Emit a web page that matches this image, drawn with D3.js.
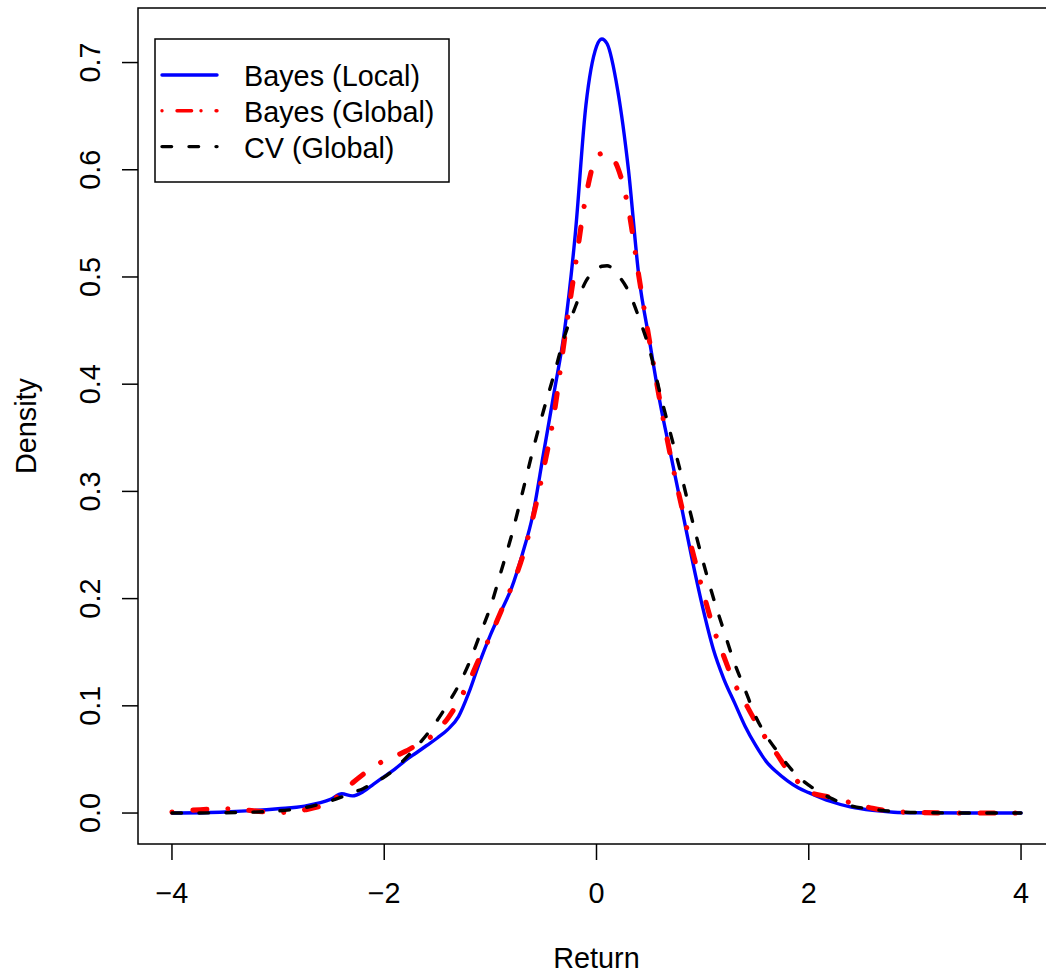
<!DOCTYPE html>
<html>
<head>
<meta charset="utf-8">
<script src="https://cdn.jsdelivr.net/npm/d3@7"></script>
<style>
  body { margin: 0; background: white; }
  svg text { font-family: "Liberation Sans", Arial, sans-serif; fill: black; }
</style>
</head>
<body>
<div id="chart"></div>
<script>
// grid of return values the densities were read at
var returnGrid = [-4, -3.5, -3, -2.75, -2.5, -2.4, -2.3, -2.2, -2.1, -2, -1.9, -1.8, -1.7, -1.6, -1.5,
  -1.4, -1.3, -1.2, -1.1, -1, -0.9, -0.8, -0.7, -0.6, -0.5, -0.4, -0.3, -0.2, -0.1, 0, 0.05, 0.1,
  0.2, 0.3, 0.4, 0.5, 0.6, 0.7, 0.8, 0.9, 1, 1.1, 1.2, 1.3, 1.4, 1.5, 1.6, 1.7, 1.8, 1.9, 2,
  2.2, 2.4, 2.6, 2.8, 3, 3.5, 4];

var bayesLocal = [0, 0.001, 0.004, 0.0065, 0.013, 0.018, 0.016, 0.0198, 0.027, 0.034, 0.041, 0.049, 0.056, 0.063, 0.070,
  0.078, 0.090, 0.113, 0.141, 0.166, 0.188, 0.210, 0.241, 0.278, 0.335, 0.392, 0.451, 0.54, 0.66, 0.715, 0.722, 0.7175,
  0.674, 0.601, 0.50, 0.44, 0.382, 0.334, 0.286, 0.237, 0.192, 0.153, 0.125, 0.103, 0.081, 0.063, 0.048, 0.038, 0.030, 0.0235, 0.019,
  0.011, 0.0055, 0.0025, 0.0008, 0.0003, 0, 0];

var bayesGlobal = [0.001, 0.004, 0.0005, 0.003, 0.011, 0.019, 0.028, 0.036, 0.043, 0.049, 0.053, 0.0575, 0.063, 0.068, 0.077,
  0.0885, 0.104, 0.123, 0.145, 0.165, 0.188, 0.211, 0.238, 0.275, 0.32, 0.372, 0.443, 0.51, 0.575, 0.612, 0.615, 0.615,
  0.602, 0.564, 0.50, 0.44, 0.383, 0.332, 0.287, 0.246, 0.208, 0.173, 0.146, 0.121, 0.103, 0.085, 0.069, 0.055, 0.040, 0.029, 0.020,
  0.0148, 0.0095, 0.0045, 0.0015, 0.0005, 0, 0];

var cvGlobal = [0, 0.0003, 0.002, 0.005, 0.0115, 0.015, 0.019, 0.0227, 0.028, 0.0335, 0.041, 0.051, 0.0615, 0.073, 0.0865,
  0.102, 0.119, 0.140, 0.166, 0.192, 0.225, 0.259, 0.298, 0.338, 0.375, 0.409, 0.445, 0.472, 0.496, 0.507, 0.510, 0.5105,
  0.502, 0.487, 0.462, 0.432, 0.391, 0.353, 0.315, 0.274, 0.236, 0.201, 0.170, 0.140, 0.115, 0.090, 0.072, 0.058, 0.045, 0.034, 0.026,
  0.0142, 0.0067, 0.0035, 0.0015, 0.0005, 0, 0];

var xTicks = [-4, -2, 0, 2, 4];
var yTicks = [0, 0.1, 0.2, 0.3, 0.4, 0.5, 0.6, 0.7];
var seriesNames = ["Bayes (Local)", "Bayes (Global)", "CV (Global)"];

var width = 1046, height = 974;
var fontSize = "28.8px";
var svg = d3.select("#chart").append("svg").attr("width", width).attr("height", height);

//R style axis ranges: data range stretched by 4% on each side
var xMin = -4, xMax = 4, yMin = 0, yMax = 0.722;
var xPad = (xMax - xMin) * 0.04, yPad = (yMax - yMin) * 0.04;
var x = d3.scaleLinear().domain([xMin - xPad, xMax + xPad]).range([138, 1055]);
var y = d3.scaleLinear().domain([yMin - yPad, yMax + yPad]).range([844, 8]);

//the plot box
svg.append("rect")
  .attr("x", x.range()[0]).attr("y", y.range()[1])
  .attr("width", x.range()[1] - x.range()[0]).attr("height", y.range()[0] - y.range()[1])
  .attr("fill", "none").attr("stroke", "black").attr("stroke-width", 1.5);

//x axis
var xAxis = svg.append("g");
xAxis.selectAll("line").data(xTicks).enter().append("line")
  .attr("x1", d => x(d)).attr("x2", d => x(d))
  .attr("y1", y.range()[0]).attr("y2", y.range()[0] + 16)
  .attr("stroke", "black").attr("stroke-width", 1.5);
xAxis.selectAll("text").data(xTicks).enter().append("text")
  .attr("x", d => x(d)).attr("y", 903)
  .attr("text-anchor", "middle").attr("font-size", fontSize)
  .text(d => d < 0 ? "\u2212" + Math.abs(d) : d);

//y axis
var yAxis = svg.append("g");
yAxis.selectAll("line").data(yTicks).enter().append("line")
  .attr("x1", x.range()[0] - 16).attr("x2", x.range()[0])
  .attr("y1", d => y(d)).attr("y2", d => y(d))
  .attr("stroke", "black").attr("stroke-width", 1.5);
yAxis.selectAll("text").data(yTicks).enter().append("text")
  .attr("transform", d => "translate(100," + y(d) + ") rotate(-90)")
  .attr("text-anchor", "middle").attr("font-size", fontSize)
  .text(d => d.toFixed(1));

//axis titles
svg.append("text").attr("x", (x.range()[0] + x.range()[1]) / 2).attr("y", 968)
  .attr("text-anchor", "middle").attr("font-size", fontSize).text("Return");
svg.append("text").attr("transform", "translate(36," + (y.range()[0] + y.range()[1]) / 2 + ") rotate(-90)")
  .attr("text-anchor", "middle").attr("font-size", fontSize).text("Density");

//the density curves
var styles = [
  {values: bayesLocal, color: "#0000FF", width: 3.4, dash: null, legendWidth: 3.4, legendDash: null},
  {values: bayesGlobal, color: "#FF0000", width: 5.1, dash: "0.01,21,14,21", legendWidth: 3.4, legendDash: "0.01,15,14.6,9.4"},
  {values: cvGlobal, color: "#000000", width: 3.4, dash: "9.6,17.4", legendWidth: 3.4, legendDash: "9.6,17.4"}
];

var line = d3.line()
  .x(d => x(d[0]))
  .y(d => y(d[1]))
  .curve(d3.curveMonotoneX);

styles.forEach(function(s) {
  svg.append("path")
    .datum(returnGrid.map((r, i) => [r, s.values[i]]))
    .attr("d", line)
    .attr("fill", "none")
    .attr("stroke", s.color)
    .attr("stroke-width", s.width)
    .attr("stroke-linecap", "round")
    .attr("stroke-linejoin", "round")
    .attr("stroke-dasharray", s.dash);
});

//legend
var legend = svg.append("g");
legend.append("rect").attr("x", 155).attr("y", 39).attr("width", 294).attr("height", 143)
  .attr("fill", "white").attr("stroke", "black").attr("stroke-width", 1.5);
styles.forEach(function(s, i) {
  var ly = 75 + i * 35.8;
  legend.append("line").attr("x1", 162).attr("x2", 217).attr("y1", ly).attr("y2", ly)
    .attr("stroke", s.color).attr("stroke-width", s.legendWidth)
    .attr("stroke-linecap", "round").attr("stroke-dasharray", s.legendDash);
  legend.append("text").attr("x", 244).attr("y", ly + 11).attr("font-size", fontSize).text(seriesNames[i]);
});
</script>
</body>
</html>
